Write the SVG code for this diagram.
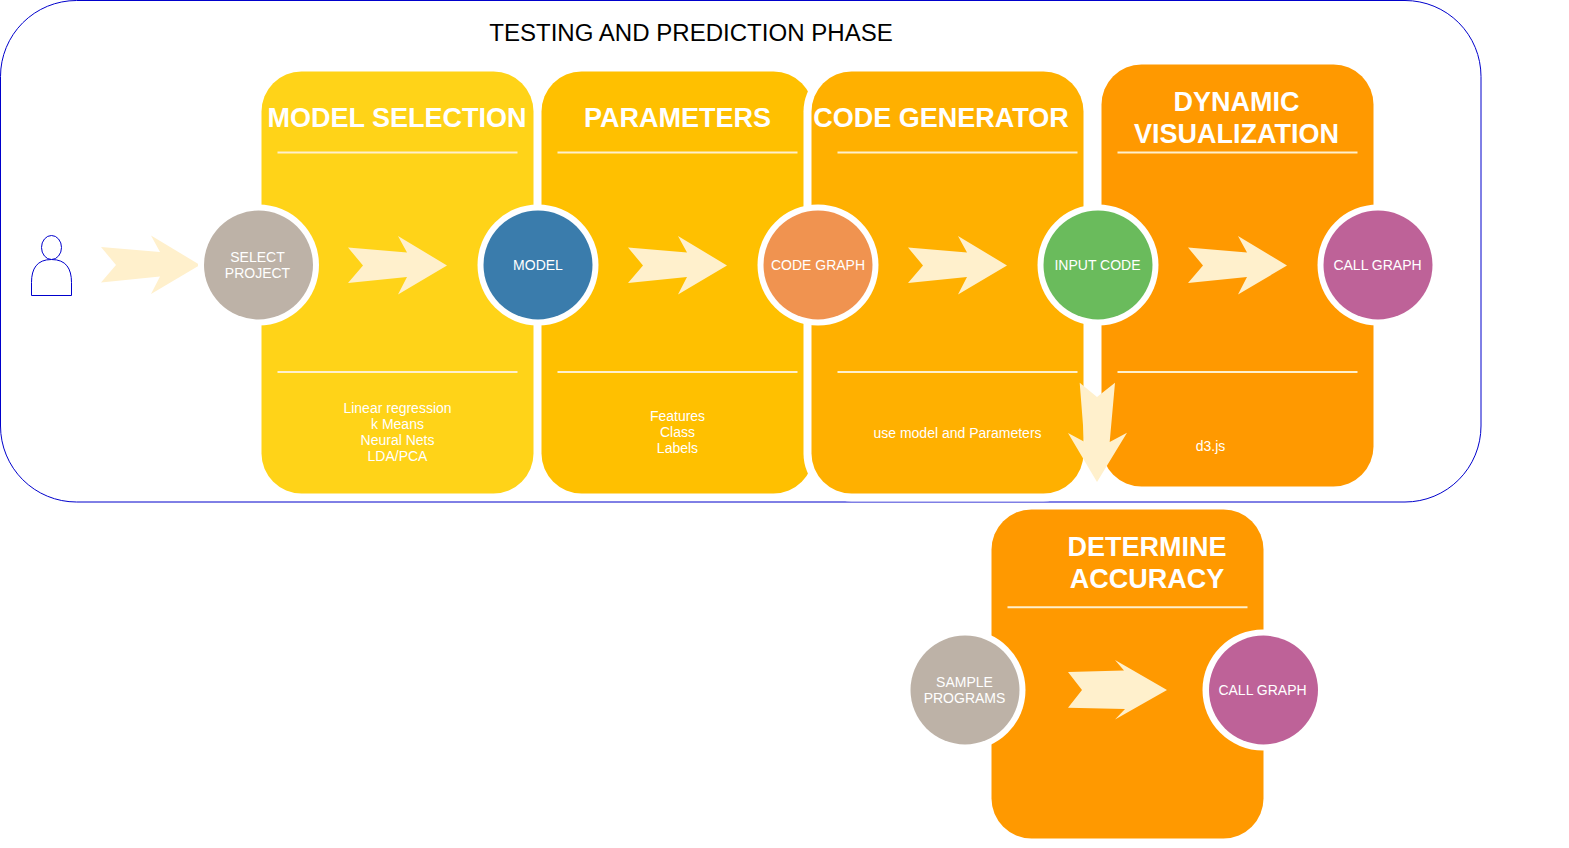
<svg xmlns="http://www.w3.org/2000/svg" width="1569" height="848" viewBox="0 0 1569 848">
<style>
text{font-family:"Liberation Sans",Arial,sans-serif;fill:#fff;text-anchor:middle}
.h{font-size:27px;font-weight:bold}
.b{font-size:14px}
.c{font-size:14px}
.r{fill:#fff}
.l{stroke:#fff0cc;stroke-width:2;fill:none}
.a{fill:#fff0cc}
.o{fill:#fff;stroke:#0000cc;stroke-width:1}
</style>
<defs><polygon id="arr" points="0,-18 59,-13 50,-29.500 99,0 50,29 59,11.500 0,17.500 15,0"/></defs>
<g id="phase"><rect class="o" x="0.500" y="0.500" width="1480.500" height="501.500" rx="76" ry="76"/>
<text x="691" y="40.500" style="font-size:24.050px;fill:#000">TESTING AND PREDICTION PHASE</text></g>
<g transform="translate(0.500,0.500)">
<g id="actor"><ellipse class="o" cx="51" cy="247" rx="10" ry="12"/><path class="o" d="M31 295V282C31 268 36.500 259 51 259C65.500 259 71 268 71 282V295Z"/></g>

<g id="panel-model"><rect x="261" y="71" width="272" height="422" rx="40" fill="#ffd318"/>
<text class="h" x="396.500" y="126.500">MODEL SELECTION</text><path class="l" d="M277 152H517M277 371.500H517"/>
<text class="b" x="397" y="412">Linear regression</text><text class="b" x="397" y="428">k Means</text><text class="b" x="397" y="444">Neural Nets</text><text class="b" x="397" y="460">LDA/PCA</text></g>
<g id="panel-parameters"><rect x="541" y="71" width="272" height="422" rx="40" fill="#ffc000"/>
<text class="h" x="677" y="126.500">PARAMETERS</text><path class="l" d="M557 152H797M557 371.500H797"/>
<text class="b" x="677" y="420">Features</text><text class="b" x="677" y="436">Class</text><text class="b" x="677" y="452">Labels</text></g>
<g id="panel-code"><rect x="803" y="63" width="288" height="438" rx="48" fill="#fff"/><rect x="811" y="71" width="272" height="422" rx="40" fill="#ffb000"/>
<text class="h" x="940.500" y="126.500">CODE GENERATOR</text><path class="l" d="M837 152H1077M837 371.500H1077"/>
<text class="b" x="957" y="437">use model and Parameters</text></g>
<g id="panel-dynamic"><rect x="1101" y="64" width="272" height="422" rx="40" fill="#ff9900"/>
<text class="h" x="1236" y="110.500">DYNAMIC</text><text class="h" x="1236" y="142.500">VISUALIZATION</text><path class="l" d="M1117 152H1357M1117 371.500H1357"/>
<text class="b" x="1210" y="450">d3.js</text></g>
<g id="panel-accuracy"><rect x="991" y="509" width="272" height="329" rx="40" fill="#ff9900"/>
<text class="h" x="1146.500" y="555.500">DETERMINE</text><text class="h" x="1146.500" y="587.500">ACCURACY</text><path class="l" d="M1007 606.800H1247"/></g>

<g id="connectors">
<use href="#arr" class="a" transform="translate(100.500,264.500)"/>
<use href="#arr" class="a" transform="translate(347.500,265)"/>
<use href="#arr" class="a" transform="translate(627.500,265)"/>
<use href="#arr" class="a" transform="translate(907.500,265)"/>
<use href="#arr" class="a" transform="translate(1187.500,265)"/>
<polygon class="a" points="1067.500,671.500 1123.500,670 1114.500,659.500 1166.500,689.500 1114.500,719 1124.500,708.500 1067.500,707.200 1081.500,689.500"/>
<polygon class="a" points="1079.200,382.200 1096.500,396.500 1114.500,382.200 1109.200,441.500 1126.500,432.200 1096.500,481.500 1067.500,432.500 1083.800,441.200"/>
</g>

<g id="node-select"><circle class="r" cx="258" cy="264.500" r="60.500"/><circle cx="258" cy="264.500" r="54.500" fill="#bdb2a7"/><text class="c" x="257" y="261.500">SELECT</text><text class="c" x="257" y="277.500">PROJECT</text></g>
<g id="node-model"><circle class="r" cx="537.500" cy="264.500" r="60.500"/><circle cx="537.500" cy="264.500" r="54.500" fill="#3a7cac"/><text class="c" x="537.500" y="269.500">MODEL</text></g>
<g id="node-codegraph"><circle class="r" cx="817.500" cy="264.500" r="60.500"/><circle cx="817.500" cy="264.500" r="54.500" fill="#f09350"/><text class="c" x="817.500" y="269.500">CODE GRAPH</text></g>
<g id="node-inputcode"><circle class="r" cx="1097.500" cy="264.500" r="60.500"/><circle cx="1097.500" cy="264.500" r="54.500" fill="#6abb5c"/><text class="c" x="1097" y="269.500">INPUT CODE</text></g>
<g id="node-callgraph"><circle class="r" cx="1377.500" cy="264.500" r="60.500"/><circle cx="1377.500" cy="264.500" r="54.500" fill="#be6298"/><text class="c" x="1377" y="269.500">CALL GRAPH</text></g>
<g id="node-sample"><circle class="r" cx="964.500" cy="689.500" r="60.500"/><circle cx="964.500" cy="689.500" r="54.500" fill="#bdb2a7"/><text class="c" x="964" y="686">SAMPLE</text><text class="c" x="964" y="702">PROGRAMS</text></g>
<g id="node-callgraph2"><circle class="r" cx="1262.500" cy="689.500" r="60.500"/><circle cx="1263" cy="689.500" r="54.500" fill="#be6298"/><text class="c" x="1262" y="694">CALL GRAPH</text></g>
</g>
</svg>
